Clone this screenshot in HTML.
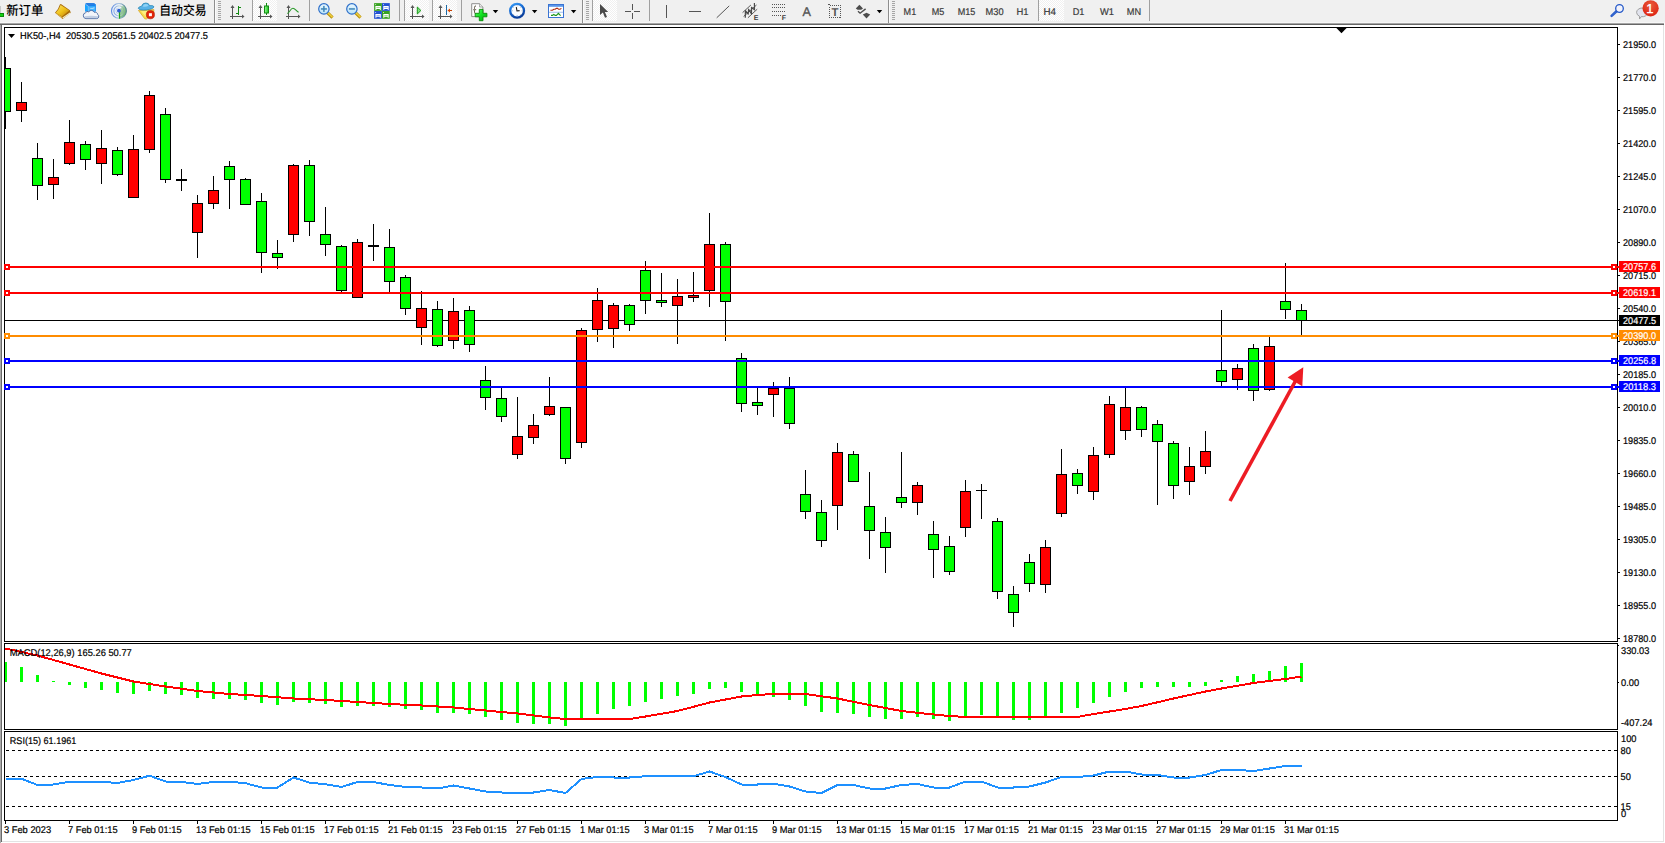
<!DOCTYPE html><html><head><meta charset="utf-8"><title>HK50-,H4</title>
<style>
html,body{margin:0;padding:0;background:#f0f0f0;overflow:hidden}
body{width:1665px;height:843px;position:relative;font-family:"Liberation Sans","Noto Sans CJK SC",sans-serif}
#chart{position:absolute;left:0;top:0;width:1665px;height:843px}
#chart text{font-family:"Liberation Sans","Noto Sans CJK SC",sans-serif;font-size:9.78px;text-rendering:geometricPrecision;stroke-width:0.2px}
.cr{shape-rendering:crispEdges}
#chart text.tb{font-size:9.78px;fill:#3a3a3a;stroke:#3a3a3a}
#chart text.cjk{font-family:"Noto Sans CJK SC","Liberation Sans",sans-serif;font-size:13px;fill:#000;font-weight:500;stroke-width:0}
</style></head><body>
<svg id="chart" width="1665" height="843" viewBox="0 0 1665 843">
<g class="cr">
<rect x="0" y="0" width="1665" height="843" fill="#f0f0f0"/>
<rect x="0" y="22" width="1665" height="1" fill="#f7f7f7"/>
<rect x="0" y="23" width="1665" height="820" fill="#fff"/>
<rect x="0" y="23" width="1664" height="1" fill="#a6a6a6"/>
<rect x="0" y="24" width="1664" height="1" fill="#666"/>
<rect x="0" y="25" width="1" height="818" fill="#a9a9a9"/>
<rect x="1" y="25" width="1" height="817" fill="#696969"/>
<rect x="1663" y="25" width="1" height="817" fill="#e3e3e3"/>
<rect x="2" y="841" width="1662" height="1" fill="#e3e3e3"/>
<rect x="4" y="27" width="1614" height="1" fill="#000"/>
<rect x="4" y="27" width="1" height="615" fill="#000"/><rect x="4" y="643" width="1" height="87" fill="#000"/><rect x="4" y="731" width="1" height="90" fill="#000"/>
<rect x="1617" y="27" width="1" height="615" fill="#000"/>
<rect x="1617" y="643" width="1" height="87" fill="#000"/>
<rect x="1617" y="731" width="1" height="90" fill="#000"/>
<rect x="4" y="641" width="1614" height="1" fill="#000"/>
<rect x="4" y="643" width="1614" height="1" fill="#000"/>
<rect x="4" y="729" width="1614" height="1" fill="#000"/>
<rect x="4" y="731" width="1614" height="1" fill="#000"/>
<rect x="4" y="820" width="1614" height="1" fill="#000"/>
</g>
<defs><clipPath id="cm"><rect x="5" y="28" width="1612" height="613"/></clipPath><clipPath id="cm4"><rect x="4" y="28" width="1615" height="613"/></clipPath><clipPath id="c2"><rect x="5" y="644" width="1612" height="85"/></clipPath></defs>
<g class="cr">
<rect x="1618" y="44" width="2" height="1" fill="#000"/>
<rect x="1618" y="77" width="2" height="1" fill="#000"/>
<rect x="1618" y="110" width="2" height="1" fill="#000"/>
<rect x="1618" y="143" width="2" height="1" fill="#000"/>
<rect x="1618" y="176" width="2" height="1" fill="#000"/>
<rect x="1618" y="209" width="2" height="1" fill="#000"/>
<rect x="1618" y="242" width="2" height="1" fill="#000"/>
<rect x="1618" y="275" width="2" height="1" fill="#000"/>
<rect x="1618" y="308" width="2" height="1" fill="#000"/>
<rect x="1618" y="341" width="2" height="1" fill="#000"/>
<rect x="1618" y="374" width="2" height="1" fill="#000"/>
<rect x="1618" y="407" width="2" height="1" fill="#000"/>
<rect x="1618" y="440" width="2" height="1" fill="#000"/>
<rect x="1618" y="473" width="2" height="1" fill="#000"/>
<rect x="1618" y="506" width="2" height="1" fill="#000"/>
<rect x="1618" y="539" width="2" height="1" fill="#000"/>
<rect x="1618" y="572" width="2" height="1" fill="#000"/>
<rect x="1618" y="605" width="2" height="1" fill="#000"/>
<rect x="1618" y="638" width="2" height="1" fill="#000"/>
</g>
<text x="1623" y="48" fill="#000" stroke="#000" text-anchor="start" textLength="33" lengthAdjust="spacingAndGlyphs">21950.0</text>
<text x="1623" y="81" fill="#000" stroke="#000" text-anchor="start" textLength="33" lengthAdjust="spacingAndGlyphs">21770.0</text>
<text x="1623" y="114" fill="#000" stroke="#000" text-anchor="start" textLength="33" lengthAdjust="spacingAndGlyphs">21595.0</text>
<text x="1623" y="147" fill="#000" stroke="#000" text-anchor="start" textLength="33" lengthAdjust="spacingAndGlyphs">21420.0</text>
<text x="1623" y="180" fill="#000" stroke="#000" text-anchor="start" textLength="33" lengthAdjust="spacingAndGlyphs">21245.0</text>
<text x="1623" y="213" fill="#000" stroke="#000" text-anchor="start" textLength="33" lengthAdjust="spacingAndGlyphs">21070.0</text>
<text x="1623" y="246" fill="#000" stroke="#000" text-anchor="start" textLength="33" lengthAdjust="spacingAndGlyphs">20890.0</text>
<text x="1623" y="279" fill="#000" stroke="#000" text-anchor="start" textLength="33" lengthAdjust="spacingAndGlyphs">20715.0</text>
<text x="1623" y="312" fill="#000" stroke="#000" text-anchor="start" textLength="33" lengthAdjust="spacingAndGlyphs">20540.0</text>
<text x="1623" y="345" fill="#000" stroke="#000" text-anchor="start" textLength="33" lengthAdjust="spacingAndGlyphs">20365.0</text>
<text x="1623" y="378" fill="#000" stroke="#000" text-anchor="start" textLength="33" lengthAdjust="spacingAndGlyphs">20185.0</text>
<text x="1623" y="411" fill="#000" stroke="#000" text-anchor="start" textLength="33" lengthAdjust="spacingAndGlyphs">20010.0</text>
<text x="1623" y="444" fill="#000" stroke="#000" text-anchor="start" textLength="33" lengthAdjust="spacingAndGlyphs">19835.0</text>
<text x="1623" y="477" fill="#000" stroke="#000" text-anchor="start" textLength="33" lengthAdjust="spacingAndGlyphs">19660.0</text>
<text x="1623" y="510" fill="#000" stroke="#000" text-anchor="start" textLength="33" lengthAdjust="spacingAndGlyphs">19485.0</text>
<text x="1623" y="543" fill="#000" stroke="#000" text-anchor="start" textLength="33" lengthAdjust="spacingAndGlyphs">19305.0</text>
<text x="1623" y="576" fill="#000" stroke="#000" text-anchor="start" textLength="33" lengthAdjust="spacingAndGlyphs">19130.0</text>
<text x="1623" y="609" fill="#000" stroke="#000" text-anchor="start" textLength="33" lengthAdjust="spacingAndGlyphs">18955.0</text>
<text x="1623" y="642" fill="#000" stroke="#000" text-anchor="start" textLength="33" lengthAdjust="spacingAndGlyphs">18780.0</text>
<g class="cr" clip-path="url(#cm)">
<rect x="5" y="320" width="1612" height="1" fill="#000"/>
<rect x="5" y="57" width="1" height="72" fill="#000"/>
<rect x="0" y="68" width="11" height="44" fill="#000"/>
<rect x="1" y="69" width="9" height="42" fill="#00ff00"/>
<rect x="21" y="82" width="1" height="40" fill="#000"/>
<rect x="16" y="102" width="11" height="9" fill="#000"/>
<rect x="17" y="103" width="9" height="7" fill="#ff0000"/>
<rect x="37" y="143" width="1" height="57" fill="#000"/>
<rect x="32" y="158" width="11" height="28" fill="#000"/>
<rect x="33" y="159" width="9" height="26" fill="#00ff00"/>
<rect x="53" y="159" width="1" height="40" fill="#000"/>
<rect x="48" y="177" width="11" height="8" fill="#000"/>
<rect x="49" y="178" width="9" height="6" fill="#ff0000"/>
<rect x="69" y="120" width="1" height="45" fill="#000"/>
<rect x="64" y="142" width="11" height="22" fill="#000"/>
<rect x="65" y="143" width="9" height="20" fill="#ff0000"/>
<rect x="85" y="141" width="1" height="29" fill="#000"/>
<rect x="80" y="144" width="11" height="16" fill="#000"/>
<rect x="81" y="145" width="9" height="14" fill="#00ff00"/>
<rect x="101" y="130" width="1" height="54" fill="#000"/>
<rect x="96" y="148" width="11" height="16" fill="#000"/>
<rect x="97" y="149" width="9" height="14" fill="#ff0000"/>
<rect x="117" y="147" width="1" height="29" fill="#000"/>
<rect x="112" y="150" width="11" height="25" fill="#000"/>
<rect x="113" y="151" width="9" height="23" fill="#00ff00"/>
<rect x="133" y="135" width="1" height="63" fill="#000"/>
<rect x="128" y="149" width="11" height="49" fill="#000"/>
<rect x="129" y="150" width="9" height="47" fill="#ff0000"/>
<rect x="149" y="91" width="1" height="62" fill="#000"/>
<rect x="144" y="95" width="11" height="55" fill="#000"/>
<rect x="145" y="96" width="9" height="53" fill="#ff0000"/>
<rect x="165" y="108" width="1" height="75" fill="#000"/>
<rect x="160" y="114" width="11" height="66" fill="#000"/>
<rect x="161" y="115" width="9" height="64" fill="#00ff00"/>
<rect x="181" y="169" width="1" height="22" fill="#000"/>
<rect x="176" y="179" width="11" height="2" fill="#000"/>
<rect x="197" y="195" width="1" height="63" fill="#000"/>
<rect x="192" y="203" width="11" height="30" fill="#000"/>
<rect x="193" y="204" width="9" height="28" fill="#ff0000"/>
<rect x="213" y="176" width="1" height="33" fill="#000"/>
<rect x="208" y="190" width="11" height="14" fill="#000"/>
<rect x="209" y="191" width="9" height="12" fill="#ff0000"/>
<rect x="229" y="161" width="1" height="48" fill="#000"/>
<rect x="224" y="166" width="11" height="14" fill="#000"/>
<rect x="225" y="167" width="9" height="12" fill="#00ff00"/>
<rect x="245" y="178" width="1" height="27" fill="#000"/>
<rect x="240" y="179" width="11" height="26" fill="#000"/>
<rect x="241" y="180" width="9" height="24" fill="#00ff00"/>
<rect x="261" y="193" width="1" height="80" fill="#000"/>
<rect x="256" y="201" width="11" height="52" fill="#000"/>
<rect x="257" y="202" width="9" height="50" fill="#00ff00"/>
<rect x="277" y="240" width="1" height="29" fill="#000"/>
<rect x="272" y="253" width="11" height="5" fill="#000"/>
<rect x="273" y="254" width="9" height="3" fill="#00ff00"/>
<rect x="293" y="164" width="1" height="78" fill="#000"/>
<rect x="288" y="165" width="11" height="70" fill="#000"/>
<rect x="289" y="166" width="9" height="68" fill="#ff0000"/>
<rect x="309" y="160" width="1" height="76" fill="#000"/>
<rect x="304" y="165" width="11" height="57" fill="#000"/>
<rect x="305" y="166" width="9" height="55" fill="#00ff00"/>
<rect x="325" y="207" width="1" height="49" fill="#000"/>
<rect x="320" y="234" width="11" height="11" fill="#000"/>
<rect x="321" y="235" width="9" height="9" fill="#00ff00"/>
<rect x="341" y="245" width="1" height="47" fill="#000"/>
<rect x="336" y="246" width="11" height="45" fill="#000"/>
<rect x="337" y="247" width="9" height="43" fill="#00ff00"/>
<rect x="357" y="239" width="1" height="59" fill="#000"/>
<rect x="352" y="242" width="11" height="56" fill="#000"/>
<rect x="353" y="243" width="9" height="54" fill="#ff0000"/>
<rect x="373" y="224" width="1" height="37" fill="#000"/>
<rect x="368" y="245" width="11" height="2" fill="#000"/>
<rect x="389" y="229" width="1" height="64" fill="#000"/>
<rect x="384" y="247" width="11" height="35" fill="#000"/>
<rect x="385" y="248" width="9" height="33" fill="#00ff00"/>
<rect x="405" y="275" width="1" height="40" fill="#000"/>
<rect x="400" y="277" width="11" height="32" fill="#000"/>
<rect x="401" y="278" width="9" height="30" fill="#00ff00"/>
<rect x="421" y="291" width="1" height="54" fill="#000"/>
<rect x="416" y="308" width="11" height="20" fill="#000"/>
<rect x="417" y="309" width="9" height="18" fill="#ff0000"/>
<rect x="437" y="301" width="1" height="46" fill="#000"/>
<rect x="432" y="309" width="11" height="37" fill="#000"/>
<rect x="433" y="310" width="9" height="35" fill="#00ff00"/>
<rect x="453" y="298" width="1" height="51" fill="#000"/>
<rect x="448" y="311" width="11" height="30" fill="#000"/>
<rect x="449" y="312" width="9" height="28" fill="#ff0000"/>
<rect x="469" y="306" width="1" height="46" fill="#000"/>
<rect x="464" y="310" width="11" height="35" fill="#000"/>
<rect x="465" y="311" width="9" height="33" fill="#00ff00"/>
<rect x="485" y="366" width="1" height="44" fill="#000"/>
<rect x="480" y="380" width="11" height="18" fill="#000"/>
<rect x="481" y="381" width="9" height="16" fill="#00ff00"/>
<rect x="501" y="388" width="1" height="34" fill="#000"/>
<rect x="496" y="398" width="11" height="19" fill="#000"/>
<rect x="497" y="399" width="9" height="17" fill="#00ff00"/>
<rect x="517" y="397" width="1" height="62" fill="#000"/>
<rect x="512" y="436" width="11" height="19" fill="#000"/>
<rect x="513" y="437" width="9" height="17" fill="#ff0000"/>
<rect x="533" y="414" width="1" height="30" fill="#000"/>
<rect x="528" y="425" width="11" height="13" fill="#000"/>
<rect x="529" y="426" width="9" height="11" fill="#ff0000"/>
<rect x="549" y="377" width="1" height="39" fill="#000"/>
<rect x="544" y="406" width="11" height="9" fill="#000"/>
<rect x="545" y="407" width="9" height="7" fill="#ff0000"/>
<rect x="565" y="407" width="1" height="57" fill="#000"/>
<rect x="560" y="407" width="11" height="52" fill="#000"/>
<rect x="561" y="408" width="9" height="50" fill="#00ff00"/>
<rect x="581" y="328" width="1" height="120" fill="#000"/>
<rect x="576" y="330" width="11" height="113" fill="#000"/>
<rect x="577" y="331" width="9" height="111" fill="#ff0000"/>
<rect x="597" y="288" width="1" height="54" fill="#000"/>
<rect x="592" y="300" width="11" height="30" fill="#000"/>
<rect x="593" y="301" width="9" height="28" fill="#ff0000"/>
<rect x="613" y="303" width="1" height="45" fill="#000"/>
<rect x="608" y="305" width="11" height="24" fill="#000"/>
<rect x="609" y="306" width="9" height="22" fill="#ff0000"/>
<rect x="629" y="304" width="1" height="27" fill="#000"/>
<rect x="624" y="305" width="11" height="20" fill="#000"/>
<rect x="625" y="306" width="9" height="18" fill="#00ff00"/>
<rect x="645" y="261" width="1" height="53" fill="#000"/>
<rect x="640" y="270" width="11" height="31" fill="#000"/>
<rect x="641" y="271" width="9" height="29" fill="#00ff00"/>
<rect x="661" y="273" width="1" height="34" fill="#000"/>
<rect x="656" y="300" width="11" height="3" fill="#000"/>
<rect x="657" y="301" width="9" height="1" fill="#00ff00"/>
<rect x="677" y="279" width="1" height="65" fill="#000"/>
<rect x="672" y="296" width="11" height="10" fill="#000"/>
<rect x="673" y="297" width="9" height="8" fill="#ff0000"/>
<rect x="693" y="272" width="1" height="30" fill="#000"/>
<rect x="688" y="295" width="11" height="3" fill="#000"/>
<rect x="689" y="296" width="9" height="1" fill="#ff0000"/>
<rect x="709" y="213" width="1" height="94" fill="#000"/>
<rect x="704" y="244" width="11" height="47" fill="#000"/>
<rect x="705" y="245" width="9" height="45" fill="#ff0000"/>
<rect x="725" y="242" width="1" height="99" fill="#000"/>
<rect x="720" y="244" width="11" height="58" fill="#000"/>
<rect x="721" y="245" width="9" height="56" fill="#00ff00"/>
<rect x="741" y="353" width="1" height="59" fill="#000"/>
<rect x="736" y="358" width="11" height="46" fill="#000"/>
<rect x="737" y="359" width="9" height="44" fill="#00ff00"/>
<rect x="757" y="388" width="1" height="27" fill="#000"/>
<rect x="752" y="402" width="11" height="4" fill="#000"/>
<rect x="753" y="403" width="9" height="2" fill="#00ff00"/>
<rect x="773" y="382" width="1" height="35" fill="#000"/>
<rect x="768" y="388" width="11" height="7" fill="#000"/>
<rect x="769" y="389" width="9" height="5" fill="#ff0000"/>
<rect x="789" y="377" width="1" height="52" fill="#000"/>
<rect x="784" y="388" width="11" height="36" fill="#000"/>
<rect x="785" y="389" width="9" height="34" fill="#00ff00"/>
<rect x="805" y="470" width="1" height="49" fill="#000"/>
<rect x="800" y="494" width="11" height="18" fill="#000"/>
<rect x="801" y="495" width="9" height="16" fill="#00ff00"/>
<rect x="821" y="500" width="1" height="47" fill="#000"/>
<rect x="816" y="512" width="11" height="29" fill="#000"/>
<rect x="817" y="513" width="9" height="27" fill="#00ff00"/>
<rect x="837" y="443" width="1" height="87" fill="#000"/>
<rect x="832" y="452" width="11" height="54" fill="#000"/>
<rect x="833" y="453" width="9" height="52" fill="#ff0000"/>
<rect x="853" y="451" width="1" height="31" fill="#000"/>
<rect x="848" y="454" width="11" height="28" fill="#000"/>
<rect x="849" y="455" width="9" height="26" fill="#00ff00"/>
<rect x="869" y="472" width="1" height="87" fill="#000"/>
<rect x="864" y="506" width="11" height="25" fill="#000"/>
<rect x="865" y="507" width="9" height="23" fill="#00ff00"/>
<rect x="885" y="517" width="1" height="56" fill="#000"/>
<rect x="880" y="532" width="11" height="16" fill="#000"/>
<rect x="881" y="533" width="9" height="14" fill="#00ff00"/>
<rect x="901" y="452" width="1" height="56" fill="#000"/>
<rect x="896" y="497" width="11" height="6" fill="#000"/>
<rect x="897" y="498" width="9" height="4" fill="#00ff00"/>
<rect x="917" y="482" width="1" height="33" fill="#000"/>
<rect x="912" y="485" width="11" height="18" fill="#000"/>
<rect x="913" y="486" width="9" height="16" fill="#ff0000"/>
<rect x="933" y="521" width="1" height="57" fill="#000"/>
<rect x="928" y="534" width="11" height="16" fill="#000"/>
<rect x="929" y="535" width="9" height="14" fill="#00ff00"/>
<rect x="949" y="536" width="1" height="39" fill="#000"/>
<rect x="944" y="546" width="11" height="26" fill="#000"/>
<rect x="945" y="547" width="9" height="24" fill="#00ff00"/>
<rect x="965" y="480" width="1" height="57" fill="#000"/>
<rect x="960" y="491" width="11" height="37" fill="#000"/>
<rect x="961" y="492" width="9" height="35" fill="#ff0000"/>
<rect x="981" y="484" width="1" height="35" fill="#000"/>
<rect x="976" y="490" width="11" height="1" fill="#000"/>
<rect x="997" y="518" width="1" height="81" fill="#000"/>
<rect x="992" y="521" width="11" height="71" fill="#000"/>
<rect x="993" y="522" width="9" height="69" fill="#00ff00"/>
<rect x="1013" y="586" width="1" height="41" fill="#000"/>
<rect x="1008" y="594" width="11" height="19" fill="#000"/>
<rect x="1009" y="595" width="9" height="17" fill="#00ff00"/>
<rect x="1029" y="554" width="1" height="38" fill="#000"/>
<rect x="1024" y="562" width="11" height="22" fill="#000"/>
<rect x="1025" y="563" width="9" height="20" fill="#00ff00"/>
<rect x="1045" y="540" width="1" height="53" fill="#000"/>
<rect x="1040" y="547" width="11" height="38" fill="#000"/>
<rect x="1041" y="548" width="9" height="36" fill="#ff0000"/>
<rect x="1061" y="449" width="1" height="68" fill="#000"/>
<rect x="1056" y="474" width="11" height="40" fill="#000"/>
<rect x="1057" y="475" width="9" height="38" fill="#ff0000"/>
<rect x="1077" y="469" width="1" height="25" fill="#000"/>
<rect x="1072" y="473" width="11" height="13" fill="#000"/>
<rect x="1073" y="474" width="9" height="11" fill="#00ff00"/>
<rect x="1093" y="447" width="1" height="53" fill="#000"/>
<rect x="1088" y="455" width="11" height="37" fill="#000"/>
<rect x="1089" y="456" width="9" height="35" fill="#ff0000"/>
<rect x="1109" y="396" width="1" height="62" fill="#000"/>
<rect x="1104" y="404" width="11" height="51" fill="#000"/>
<rect x="1105" y="405" width="9" height="49" fill="#ff0000"/>
<rect x="1125" y="388" width="1" height="52" fill="#000"/>
<rect x="1120" y="407" width="11" height="24" fill="#000"/>
<rect x="1121" y="408" width="9" height="22" fill="#ff0000"/>
<rect x="1141" y="406" width="1" height="31" fill="#000"/>
<rect x="1136" y="407" width="11" height="23" fill="#000"/>
<rect x="1137" y="408" width="9" height="21" fill="#00ff00"/>
<rect x="1157" y="420" width="1" height="85" fill="#000"/>
<rect x="1152" y="424" width="11" height="18" fill="#000"/>
<rect x="1153" y="425" width="9" height="16" fill="#00ff00"/>
<rect x="1173" y="441" width="1" height="58" fill="#000"/>
<rect x="1168" y="443" width="11" height="43" fill="#000"/>
<rect x="1169" y="444" width="9" height="41" fill="#00ff00"/>
<rect x="1189" y="447" width="1" height="48" fill="#000"/>
<rect x="1184" y="466" width="11" height="16" fill="#000"/>
<rect x="1185" y="467" width="9" height="14" fill="#ff0000"/>
<rect x="1205" y="431" width="1" height="43" fill="#000"/>
<rect x="1200" y="451" width="11" height="16" fill="#000"/>
<rect x="1201" y="452" width="9" height="14" fill="#ff0000"/>
<rect x="1221" y="310" width="1" height="76" fill="#000"/>
<rect x="1216" y="370" width="11" height="12" fill="#000"/>
<rect x="1217" y="371" width="9" height="10" fill="#00ff00"/>
<rect x="1237" y="364" width="1" height="26" fill="#000"/>
<rect x="1232" y="368" width="11" height="12" fill="#000"/>
<rect x="1233" y="369" width="9" height="10" fill="#ff0000"/>
<rect x="1253" y="344" width="1" height="57" fill="#000"/>
<rect x="1248" y="348" width="11" height="43" fill="#000"/>
<rect x="1249" y="349" width="9" height="41" fill="#00ff00"/>
<rect x="1269" y="337" width="1" height="54" fill="#000"/>
<rect x="1264" y="346" width="11" height="44" fill="#000"/>
<rect x="1265" y="347" width="9" height="42" fill="#ff0000"/>
<rect x="1285" y="263" width="1" height="56" fill="#000"/>
<rect x="1280" y="301" width="11" height="9" fill="#000"/>
<rect x="1281" y="302" width="9" height="7" fill="#00ff00"/>
<rect x="1301" y="304" width="1" height="31" fill="#000"/>
<rect x="1296" y="310" width="11" height="11" fill="#000"/>
<rect x="1297" y="311" width="9" height="9" fill="#00ff00"/>
</g><g class="cr" clip-path="url(#cm4)">
<rect x="4" y="266" width="1615" height="2" fill="#ff0000"/>
<rect x="4" y="264" width="6" height="6" fill="#ff0000"/>
<rect x="6" y="266" width="2" height="2" fill="#fff"/>
<rect x="1611" y="264" width="6" height="6" fill="#ff0000"/>
<rect x="1613" y="266" width="2" height="2" fill="#fff"/>
<rect x="4" y="292" width="1615" height="2" fill="#ff0000"/>
<rect x="4" y="290" width="6" height="6" fill="#ff0000"/>
<rect x="6" y="292" width="2" height="2" fill="#fff"/>
<rect x="1611" y="290" width="6" height="6" fill="#ff0000"/>
<rect x="1613" y="292" width="2" height="2" fill="#fff"/>
<rect x="4" y="335" width="1615" height="2" fill="#ff8c00"/>
<rect x="4" y="333" width="6" height="6" fill="#ff8c00"/>
<rect x="6" y="335" width="2" height="2" fill="#fff"/>
<rect x="1611" y="333" width="6" height="6" fill="#ff8c00"/>
<rect x="1613" y="335" width="2" height="2" fill="#fff"/>
<rect x="4" y="360" width="1615" height="2" fill="#0000ff"/>
<rect x="4" y="358" width="6" height="6" fill="#0000ff"/>
<rect x="6" y="360" width="2" height="2" fill="#fff"/>
<rect x="1611" y="358" width="6" height="6" fill="#0000ff"/>
<rect x="1613" y="360" width="2" height="2" fill="#fff"/>
<rect x="4" y="386" width="1615" height="2" fill="#0000ff"/>
<rect x="4" y="384" width="6" height="6" fill="#0000ff"/>
<rect x="6" y="386" width="2" height="2" fill="#fff"/>
<rect x="1611" y="384" width="6" height="6" fill="#0000ff"/>
<rect x="1613" y="386" width="2" height="2" fill="#fff"/>
</g>
<g class="cr">
<rect x="1618" y="320" width="1" height="1" fill="#000"/><rect x="1619" y="315" width="41" height="11" fill="#000"/>
<rect x="1619" y="261" width="41" height="11" fill="#ff0000"/>
<rect x="1619" y="287" width="41" height="11" fill="#ff0000"/>
<rect x="1619" y="330" width="41" height="11" fill="#ff8c00"/>
<rect x="1619" y="355" width="41" height="11" fill="#0000ff"/>
<rect x="1619" y="381" width="41" height="11" fill="#0000ff"/>
</g>
<text x="1623" y="324" fill="#fff" stroke="#fff" text-anchor="start" textLength="33" lengthAdjust="spacingAndGlyphs">20477.5</text>
<text x="1623" y="270" fill="#fff" stroke="#fff" text-anchor="start" textLength="33" lengthAdjust="spacingAndGlyphs">20757.6</text>
<text x="1623" y="296" fill="#fff" stroke="#fff" text-anchor="start" textLength="33" lengthAdjust="spacingAndGlyphs">20619.1</text>
<text x="1623" y="339" fill="#fff" stroke="#fff" text-anchor="start" textLength="33" lengthAdjust="spacingAndGlyphs">20390.0</text>
<text x="1623" y="364" fill="#fff" stroke="#fff" text-anchor="start" textLength="33" lengthAdjust="spacingAndGlyphs">20256.8</text>
<text x="1623" y="390" fill="#fff" stroke="#fff" text-anchor="start" textLength="33" lengthAdjust="spacingAndGlyphs">20118.3</text>
<line x1="1230" y1="501" x2="1296" y2="380" stroke="#ed1c24" stroke-width="3.6"/>
<polygon points="1303.3,367.3 1287.6,377.4 1302.3,386.3" fill="#ed1c24"/>
<polygon points="1336.4,28 1346.6,28 1341.5,33.2" fill="#000"/>
<polygon points="8,34 15,34 11.5,38" fill="#000"/>
<text x="20" y="39" fill="#000" stroke="#000" text-anchor="start" textLength="188" lengthAdjust="spacingAndGlyphs">HK50-,H4&#160; 20530.5 20561.5 20402.5 20477.5</text>
<g class="cr" clip-path="url(#c2)">
<rect x="4" y="662" width="3" height="20" fill="#00ff00"/>
<rect x="20" y="667" width="3" height="15" fill="#00ff00"/>
<rect x="36" y="675" width="3" height="7" fill="#00ff00"/>
<rect x="52" y="681" width="3" height="1" fill="#00ff00"/>
<rect x="68" y="682" width="3" height="3" fill="#00ff00"/>
<rect x="84" y="682" width="3" height="6" fill="#00ff00"/>
<rect x="100" y="682" width="3" height="8" fill="#00ff00"/>
<rect x="116" y="682" width="3" height="11" fill="#00ff00"/>
<rect x="132" y="682" width="3" height="12" fill="#00ff00"/>
<rect x="148" y="682" width="3" height="9" fill="#00ff00"/>
<rect x="164" y="682" width="3" height="12" fill="#00ff00"/>
<rect x="180" y="682" width="3" height="13" fill="#00ff00"/>
<rect x="196" y="682" width="3" height="16" fill="#00ff00"/>
<rect x="212" y="682" width="3" height="17" fill="#00ff00"/>
<rect x="228" y="682" width="3" height="17" fill="#00ff00"/>
<rect x="244" y="682" width="3" height="18" fill="#00ff00"/>
<rect x="260" y="682" width="3" height="21" fill="#00ff00"/>
<rect x="276" y="682" width="3" height="23" fill="#00ff00"/>
<rect x="292" y="682" width="3" height="20" fill="#00ff00"/>
<rect x="308" y="682" width="3" height="21" fill="#00ff00"/>
<rect x="324" y="682" width="3" height="22" fill="#00ff00"/>
<rect x="340" y="682" width="3" height="25" fill="#00ff00"/>
<rect x="356" y="682" width="3" height="24" fill="#00ff00"/>
<rect x="372" y="682" width="3" height="24" fill="#00ff00"/>
<rect x="388" y="682" width="3" height="25" fill="#00ff00"/>
<rect x="404" y="682" width="3" height="27" fill="#00ff00"/>
<rect x="420" y="682" width="3" height="28" fill="#00ff00"/>
<rect x="436" y="682" width="3" height="31" fill="#00ff00"/>
<rect x="452" y="682" width="3" height="31" fill="#00ff00"/>
<rect x="468" y="682" width="3" height="32" fill="#00ff00"/>
<rect x="484" y="682" width="3" height="35" fill="#00ff00"/>
<rect x="500" y="682" width="3" height="38" fill="#00ff00"/>
<rect x="516" y="682" width="3" height="41" fill="#00ff00"/>
<rect x="532" y="682" width="3" height="42" fill="#00ff00"/>
<rect x="548" y="682" width="3" height="42" fill="#00ff00"/>
<rect x="564" y="682" width="3" height="44" fill="#00ff00"/>
<rect x="580" y="682" width="3" height="36" fill="#00ff00"/>
<rect x="596" y="682" width="3" height="32" fill="#00ff00"/>
<rect x="612" y="682" width="3" height="27" fill="#00ff00"/>
<rect x="628" y="682" width="3" height="24" fill="#00ff00"/>
<rect x="644" y="682" width="3" height="20" fill="#00ff00"/>
<rect x="660" y="682" width="3" height="17" fill="#00ff00"/>
<rect x="676" y="682" width="3" height="14" fill="#00ff00"/>
<rect x="692" y="682" width="3" height="12" fill="#00ff00"/>
<rect x="708" y="682" width="3" height="7" fill="#00ff00"/>
<rect x="724" y="682" width="3" height="6" fill="#00ff00"/>
<rect x="740" y="682" width="3" height="10" fill="#00ff00"/>
<rect x="756" y="682" width="3" height="13" fill="#00ff00"/>
<rect x="772" y="682" width="3" height="15" fill="#00ff00"/>
<rect x="788" y="682" width="3" height="18" fill="#00ff00"/>
<rect x="804" y="682" width="3" height="24" fill="#00ff00"/>
<rect x="820" y="682" width="3" height="30" fill="#00ff00"/>
<rect x="836" y="682" width="3" height="31" fill="#00ff00"/>
<rect x="852" y="682" width="3" height="32" fill="#00ff00"/>
<rect x="868" y="682" width="3" height="35" fill="#00ff00"/>
<rect x="884" y="682" width="3" height="37" fill="#00ff00"/>
<rect x="900" y="682" width="3" height="37" fill="#00ff00"/>
<rect x="916" y="682" width="3" height="35" fill="#00ff00"/>
<rect x="932" y="682" width="3" height="37" fill="#00ff00"/>
<rect x="948" y="682" width="3" height="39" fill="#00ff00"/>
<rect x="964" y="682" width="3" height="36" fill="#00ff00"/>
<rect x="980" y="682" width="3" height="33" fill="#00ff00"/>
<rect x="996" y="682" width="3" height="34" fill="#00ff00"/>
<rect x="1012" y="682" width="3" height="38" fill="#00ff00"/>
<rect x="1028" y="682" width="3" height="38" fill="#00ff00"/>
<rect x="1044" y="682" width="3" height="34" fill="#00ff00"/>
<rect x="1060" y="682" width="3" height="31" fill="#00ff00"/>
<rect x="1076" y="682" width="3" height="26" fill="#00ff00"/>
<rect x="1092" y="682" width="3" height="21" fill="#00ff00"/>
<rect x="1108" y="682" width="3" height="15" fill="#00ff00"/>
<rect x="1124" y="682" width="3" height="10" fill="#00ff00"/>
<rect x="1140" y="682" width="3" height="6" fill="#00ff00"/>
<rect x="1156" y="682" width="3" height="5" fill="#00ff00"/>
<rect x="1172" y="682" width="3" height="5" fill="#00ff00"/>
<rect x="1188" y="682" width="3" height="5" fill="#00ff00"/>
<rect x="1204" y="682" width="3" height="4" fill="#00ff00"/>
<rect x="1220" y="680" width="3" height="2" fill="#00ff00"/>
<rect x="1236" y="676" width="3" height="6" fill="#00ff00"/>
<rect x="1252" y="674" width="3" height="8" fill="#00ff00"/>
<rect x="1268" y="671" width="3" height="11" fill="#00ff00"/>
<rect x="1284" y="666" width="3" height="16" fill="#00ff00"/>
<rect x="1300" y="663" width="3" height="19" fill="#00ff00"/>
</g>
<polyline class="cr" fill="none" stroke="#ff0000" stroke-width="2" stroke-linejoin="round" points="5.5,648.5 37.5,655.5 69.5,664.5 101.5,673.5 133.5,681.5 165.5,686.5 197.5,691 229.5,694 261.5,696 293.5,698.5 325.5,700 357.5,702 389.5,704 421.5,705.5 453.5,707.5 485.5,710.5 517.5,713.5 549.5,717.5 565.5,719 629.5,719 645.5,716.5 677.5,711 709.5,702.5 741.5,696.5 757.5,695 773.5,694 805.5,694 837.5,698.5 869.5,705 901.5,711 933.5,714.5 949.5,716 965.5,717 1077.5,717 1093.5,714 1125.5,709 1141.5,706 1173.5,698.5 1205.5,691.5 1221.5,688.5 1253.5,683 1285.5,679 1301.5,676.5"/>
<text x="9.8" y="656" fill="#000" stroke="#000" text-anchor="start" textLength="122" lengthAdjust="spacingAndGlyphs">MACD(12,26,9) 165.26 50.77</text>
<g class="cr"><rect x="1618" y="645" width="1" height="1" fill="#000"/><rect x="1618" y="682" width="1" height="1" fill="#000"/></g>
<text x="1621" y="654" fill="#000" stroke="#000" text-anchor="start"  textLength="28.4" lengthAdjust="spacingAndGlyphs">330.03</text>
<text x="1621" y="686" fill="#000" stroke="#000" text-anchor="start"  textLength="18.1" lengthAdjust="spacingAndGlyphs">0.00</text>
<text x="1621" y="726" fill="#000" stroke="#000" text-anchor="start"  textLength="31.5" lengthAdjust="spacingAndGlyphs">-407.24</text>
<g class="cr">
<line x1="6" y1="750.5" x2="1617" y2="750.5" stroke="#000" stroke-width="1" stroke-dasharray="3 3"/>
<line x1="6" y1="776.5" x2="1617" y2="776.5" stroke="#000" stroke-width="1" stroke-dasharray="3 3"/>
<line x1="6" y1="806.5" x2="1617" y2="806.5" stroke="#000" stroke-width="1" stroke-dasharray="3 3"/>
</g>
<polyline class="cr" fill="none" stroke="#1e90ff" stroke-width="2" stroke-linejoin="round" points="5.5,778.7 21.5,778.7 37.5,785 53.5,784.5 69.5,781.7 85.5,781.7 101.5,781.7 117.5,783 133.5,780 149.5,775.7 165.5,781.5 181.5,782 197.5,784 213.5,782 229.5,781.7 245.5,783.2 261.5,787.5 277.5,787.5 293.5,777.5 309.5,782.7 325.5,784.2 341.5,787 357.5,782 373.5,782 389.5,785 405.5,787 421.5,787.5 437.5,788.5 453.5,785.5 469.5,788.5 485.5,791.5 501.5,792.5 517.5,792.5 533.5,792.5 549.5,790 565.5,793 581.5,779 597.5,777 613.5,777.5 629.5,777.5 645.5,776.2 661.5,776.2 677.5,776.2 693.5,776.2 709.5,771.5 725.5,777 741.5,784.5 757.5,784.5 773.5,783.7 789.5,786.5 805.5,791.5 821.5,793 837.5,785 853.5,785 869.5,788.5 885.5,788.5 901.5,785 917.5,784 933.5,787.5 949.5,787.5 965.5,781.5 981.5,781.5 997.5,787.5 1013.5,787.5 1029.5,786.5 1045.5,782.5 1061.5,777 1077.5,777 1093.5,775.5 1109.5,771.5 1125.5,771.5 1141.5,774.5 1157.5,775 1173.5,777.5 1189.5,777.5 1205.5,775 1221.5,770 1237.5,770 1253.5,771 1269.5,768.5 1285.5,766 1301.5,766"/>
<text x="9.8" y="744" fill="#000" stroke="#000" text-anchor="start" textLength="66.5" lengthAdjust="spacingAndGlyphs">RSI(15) 61.1961</text>
<text x="1621" y="742" fill="#000" stroke="#000" text-anchor="start"  textLength="15.5" lengthAdjust="spacingAndGlyphs">100</text>
<text x="1620.5" y="754" fill="#000" stroke="#000" text-anchor="start"  textLength="10.3" lengthAdjust="spacingAndGlyphs">80</text>
<text x="1620.5" y="780" fill="#000" stroke="#000" text-anchor="start"  textLength="10.3" lengthAdjust="spacingAndGlyphs">50</text>
<text x="1620.5" y="810" fill="#000" stroke="#000" text-anchor="start"  textLength="10.3" lengthAdjust="spacingAndGlyphs">15</text>
<text x="1621" y="817" fill="#000" stroke="#000" text-anchor="start"  textLength="5.2" lengthAdjust="spacingAndGlyphs">0</text>
<g class="cr">
<rect x="5" y="821" width="1" height="3" fill="#000"/>
<rect x="69" y="821" width="1" height="3" fill="#000"/>
<rect x="133" y="821" width="1" height="3" fill="#000"/>
<rect x="197" y="821" width="1" height="3" fill="#000"/>
<rect x="261" y="821" width="1" height="3" fill="#000"/>
<rect x="325" y="821" width="1" height="3" fill="#000"/>
<rect x="389" y="821" width="1" height="3" fill="#000"/>
<rect x="453" y="821" width="1" height="3" fill="#000"/>
<rect x="517" y="821" width="1" height="3" fill="#000"/>
<rect x="581" y="821" width="1" height="3" fill="#000"/>
<rect x="645" y="821" width="1" height="3" fill="#000"/>
<rect x="709" y="821" width="1" height="3" fill="#000"/>
<rect x="773" y="821" width="1" height="3" fill="#000"/>
<rect x="837" y="821" width="1" height="3" fill="#000"/>
<rect x="901" y="821" width="1" height="3" fill="#000"/>
<rect x="965" y="821" width="1" height="3" fill="#000"/>
<rect x="1029" y="821" width="1" height="3" fill="#000"/>
<rect x="1093" y="821" width="1" height="3" fill="#000"/>
<rect x="1157" y="821" width="1" height="3" fill="#000"/>
<rect x="1221" y="821" width="1" height="3" fill="#000"/>
<rect x="1285" y="821" width="1" height="3" fill="#000"/>
</g>
<text x="4" y="833" fill="#000" stroke="#000" text-anchor="start"  textLength="47.1" lengthAdjust="spacingAndGlyphs">3 Feb 2023</text>
<text x="68" y="833" fill="#000" stroke="#000" text-anchor="start"  textLength="49.6" lengthAdjust="spacingAndGlyphs">7 Feb 01:15</text>
<text x="132" y="833" fill="#000" stroke="#000" text-anchor="start"  textLength="49.6" lengthAdjust="spacingAndGlyphs">9 Feb 01:15</text>
<text x="196" y="833" fill="#000" stroke="#000" text-anchor="start"  textLength="54.8" lengthAdjust="spacingAndGlyphs">13 Feb 01:15</text>
<text x="260" y="833" fill="#000" stroke="#000" text-anchor="start"  textLength="54.8" lengthAdjust="spacingAndGlyphs">15 Feb 01:15</text>
<text x="324" y="833" fill="#000" stroke="#000" text-anchor="start"  textLength="54.8" lengthAdjust="spacingAndGlyphs">17 Feb 01:15</text>
<text x="388" y="833" fill="#000" stroke="#000" text-anchor="start"  textLength="54.8" lengthAdjust="spacingAndGlyphs">21 Feb 01:15</text>
<text x="452" y="833" fill="#000" stroke="#000" text-anchor="start"  textLength="54.8" lengthAdjust="spacingAndGlyphs">23 Feb 01:15</text>
<text x="516" y="833" fill="#000" stroke="#000" text-anchor="start"  textLength="54.8" lengthAdjust="spacingAndGlyphs">27 Feb 01:15</text>
<text x="580" y="833" fill="#000" stroke="#000" text-anchor="start"  textLength="49.6" lengthAdjust="spacingAndGlyphs">1 Mar 01:15</text>
<text x="644" y="833" fill="#000" stroke="#000" text-anchor="start"  textLength="49.6" lengthAdjust="spacingAndGlyphs">3 Mar 01:15</text>
<text x="708" y="833" fill="#000" stroke="#000" text-anchor="start"  textLength="49.6" lengthAdjust="spacingAndGlyphs">7 Mar 01:15</text>
<text x="772" y="833" fill="#000" stroke="#000" text-anchor="start"  textLength="49.6" lengthAdjust="spacingAndGlyphs">9 Mar 01:15</text>
<text x="836" y="833" fill="#000" stroke="#000" text-anchor="start"  textLength="54.8" lengthAdjust="spacingAndGlyphs">13 Mar 01:15</text>
<text x="900" y="833" fill="#000" stroke="#000" text-anchor="start"  textLength="54.8" lengthAdjust="spacingAndGlyphs">15 Mar 01:15</text>
<text x="964" y="833" fill="#000" stroke="#000" text-anchor="start"  textLength="54.8" lengthAdjust="spacingAndGlyphs">17 Mar 01:15</text>
<text x="1028" y="833" fill="#000" stroke="#000" text-anchor="start"  textLength="54.8" lengthAdjust="spacingAndGlyphs">21 Mar 01:15</text>
<text x="1092" y="833" fill="#000" stroke="#000" text-anchor="start"  textLength="54.8" lengthAdjust="spacingAndGlyphs">23 Mar 01:15</text>
<text x="1156" y="833" fill="#000" stroke="#000" text-anchor="start"  textLength="54.8" lengthAdjust="spacingAndGlyphs">27 Mar 01:15</text>
<text x="1220" y="833" fill="#000" stroke="#000" text-anchor="start"  textLength="54.8" lengthAdjust="spacingAndGlyphs">29 Mar 01:15</text>
<text x="1284" y="833" fill="#000" stroke="#000" text-anchor="start"  textLength="54.8" lengthAdjust="spacingAndGlyphs">31 Mar 01:15</text>
<defs><pattern id="chk" width="2" height="2" patternUnits="userSpaceOnUse"><rect width="2" height="2" fill="#fff"/><rect width="1" height="1" fill="#f0f0f0"/><rect x="1" y="1" width="1" height="1" fill="#f0f0f0"/></pattern><linearGradient id="gold" x1="0" y1="0" x2="1" y2="1"><stop offset="0" stop-color="#fbe36a"/><stop offset="0.5" stop-color="#efc21a"/><stop offset="1" stop-color="#b9780c"/></linearGradient><linearGradient id="blu" x1="0" y1="0" x2="1" y2="1"><stop offset="0" stop-color="#6ec3ff"/><stop offset="1" stop-color="#0a63d8"/></linearGradient><linearGradient id="grn" x1="0" y1="0" x2="1" y2="0"><stop offset="0" stop-color="#9aff9a"/><stop offset="1" stop-color="#18c018"/></linearGradient><radialGradient id="redb" cx="0.5" cy="0.3" r="0.8"><stop offset="0" stop-color="#e85a3a"/><stop offset="1" stop-color="#dc1c0c"/></radialGradient><linearGradient id="lens" x1="0" y1="0" x2="0" y2="1"><stop offset="0" stop-color="#eaf8ff"/><stop offset="1" stop-color="#b9e2f8"/></linearGradient></defs>
<rect class="cr" x="0" y="13" width="4" height="4" fill="#0a8a0a"/><rect class="cr" x="0" y="14" width="3" height="2" fill="#14d014"/>
<rect class="cr" x="0" y="6" width="1" height="7" fill="#c8c8c8"/>
<text x="6.2" y="14.7" class="cjk" textLength="37.2" lengthAdjust="spacingAndGlyphs">新订单</text>
<path d="M55,12.7 Q58.6,9.2 59.9,4.6 L60.9,4 L69.9,10.2 L70.8,12.8 L62.6,19 Z" fill="#a86a08"/>
<path d="M70.2,12.2 L70.4,13.4 L63,18.6 L62.4,17.6 Z" fill="#f3ecc0"/>
<path d="M55.9,12.7 Q59.2,9.4 60.6,4.9 L69.3,10.6 L62,16.6 Z" fill="url(#gold)"/>
<path d="M55.9,12.9 L62,16.9 L62.6,18.2 L56.6,14 Z" fill="#f6d860"/>
<path d="M85,4 L87,3.1 L94,3.2 L95.9,4.4 L95.9,11.5 L85.2,11.5 Z" fill="#0f86f0"/>
<path d="M85,4 L88.2,6 L88.4,11.6 L85.2,11.6 Z" fill="#19a4ff"/>
<path d="M85,4 L87,3.1 L94,3.2 L95.9,4.4 L88.2,6 Z" fill="#2a7de0"/>
<path d="M85.2,4.1 L88.3,6.1 L88.4,11" fill="none" stroke="#d8f0ff" stroke-width="0.5"/>
<rect x="89" y="6.3" width="6.2" height="5" fill="#45b6ff"/><path d="M90.2,8.4 L94.4,7.4 L94.4,8.2 L90.2,9.1Z" fill="#eaf6ff"/>
<path d="M86,18.6 a3,3 0 0 1 -0.4,-5.9 a2.3,2.3 0 0 1 3.2,-0.9 a3.2,3.2 0 0 1 5.6,0.6 a2.6,2.6 0 0 1 3.4,2.2 a2.2,2.2 0 0 1 -1,4 z" fill="#f2f5fa" stroke="#44649e" stroke-width="0.9"/>
<path d="M84.6,16.2 q6.6,-1 13.4,0 q0.4,1.6 -1.4,2 h-10.4 q-1.8,-0.4 -1.6,-2z" fill="#b9c7de" opacity="0.85"/>
<defs><linearGradient id="sg1" x1="0" y1="0" x2="1" y2="0"><stop offset="0" stop-color="#5f8ae2"/><stop offset="0.5" stop-color="#a9c4e0"/><stop offset="1" stop-color="#4f8090"/></linearGradient><linearGradient id="sg2" x1="0" y1="0" x2="1" y2="0"><stop offset="0" stop-color="#7fa2e8"/><stop offset="0.55" stop-color="#c4d8e0"/><stop offset="1" stop-color="#86b494"/></linearGradient><radialGradient id="sg3" cx="0.5" cy="0.5" r="0.5"><stop offset="0" stop-color="#ffffff"/><stop offset="1" stop-color="#e6eef4"/></radialGradient><linearGradient id="sg4" x1="0" y1="0" x2="1" y2="1"><stop offset="0" stop-color="#d2e8d2"/><stop offset="1" stop-color="#2f9c2f"/></linearGradient></defs>
<circle cx="118.9" cy="10.9" r="7.6" fill="url(#sg3)"/>
<path d="M118.9,10.9 L123.30000000000001,4.7 A7.6,7.6 0 0 1 119.30000000000001,18.5 Z" fill="url(#sg4)" opacity="0.85"/>
<circle cx="118.9" cy="10.9" r="7.4" fill="none" stroke="url(#sg1)" stroke-width="1.1"/>
<circle cx="118.9" cy="10.9" r="5" fill="none" stroke="url(#sg2)" stroke-width="1.1"/>
<circle cx="118.9" cy="10.9" r="3" fill="none" stroke="url(#sg2)" stroke-width="0.8" opacity="0.7"/>
<path d="M118.30000000000001,11.9 L118.5,18.5 L119.2,18.5 Z" fill="#f7ecf7"/>
<line x1="119.5" y1="10.9" x2="119.5" y2="18.7" stroke="#1fa01f" stroke-width="1.3"/>
<circle cx="118.9" cy="10.700000000000001" r="1.9" fill="#2f5fd4"/>
<path d="M138.4,10.4 L153.9,9.6 L153.6,13.4 L146.4,19 L144.8,18.8 Z" fill="#f8dc4c" stroke="#d6a21a" stroke-width="0.7"/>
<path d="M141,11.2 L150,10.8 L146,17 Z" fill="#fff48c" opacity="0.8"/>
<path d="M138.2,8.2 q0.4,-1.6 3.4,-2 q0.8,-3.2 4.2,-3.2 q3.2,0 3.6,2.6 q4.2,-0.4 4.6,1.2 q-0.6,2.2 -7.6,3.2 q-7,0.6 -8.2,-1.8z" fill="#58b2e6" stroke="#1f7fae" stroke-width="0.7"/>
<path d="M142.6,6.4 q0.8,-2.4 3.2,-2.4 q2.2,0 2.8,1.8 q-3,1.6 -6,0.6z" fill="#8fd2f6"/>
<circle cx="150.4" cy="14.7" r="4.1" fill="#e22408" stroke="#b01a06" stroke-width="0.6"/><rect x="148.9" y="13.2" width="3" height="3" fill="#fff"/>
<text x="159.2" y="14.7" class="cjk" textLength="47.4" lengthAdjust="spacingAndGlyphs">自动交易</text>
<rect class="cr" x="214" y="0" width="1" height="23" fill="#8e8e8e"/><rect class="cr" x="215" y="0" width="1" height="23" fill="#fbfbfb"/>
<rect class="cr" x="218" y="1" width="3" height="1" fill="#a6a6a6"/>
<rect class="cr" x="218" y="3" width="3" height="1" fill="#a6a6a6"/>
<rect class="cr" x="218" y="5" width="3" height="1" fill="#a6a6a6"/>
<rect class="cr" x="218" y="7" width="3" height="1" fill="#a6a6a6"/>
<rect class="cr" x="218" y="9" width="3" height="1" fill="#a6a6a6"/>
<rect class="cr" x="218" y="11" width="3" height="1" fill="#a6a6a6"/>
<rect class="cr" x="218" y="13" width="3" height="1" fill="#a6a6a6"/>
<rect class="cr" x="218" y="15" width="3" height="1" fill="#a6a6a6"/>
<rect class="cr" x="218" y="17" width="3" height="1" fill="#a6a6a6"/>
<rect class="cr" x="218" y="19" width="3" height="1" fill="#a6a6a6"/>
<g class="cr" fill="#555"><rect x="232" y="6" width="1" height="13"/><rect x="230" y="16" width="13" height="1"/></g>
<polygon points="230.5,8 232.5,5 234.5,8" fill="#555"/>
<polygon points="242,14.5 244.5,16.5 242,18.5" fill="#555"/>
<g class="cr" fill="#128a12"><rect x="238" y="6" width="1" height="9"/><rect x="239" y="7" width="2" height="1"/><rect x="236" y="13" width="2" height="1"/></g>
<rect class="cr" x="252" y="0" width="1" height="21" fill="#a0a0a0"/>
<rect class="cr" x="253" y="0" width="24" height="21" fill="url(#chk)"/>
<g class="cr" fill="#555"><rect x="260" y="6" width="1" height="13"/><rect x="258" y="16" width="13" height="1"/></g>
<polygon points="258.5,8 260.5,5 262.5,8" fill="#555"/>
<polygon points="270,14.5 272.5,16.5 270,18.5" fill="#555"/>
<rect class="cr" x="266" y="3" width="1" height="12" fill="#128a12"/>
<rect x="264.5" y="6" width="4" height="7" fill="url(#grn)" stroke="#128a12" stroke-width="1"/>
<g class="cr" fill="#555"><rect x="288" y="6" width="1" height="13"/><rect x="286" y="16" width="13" height="1"/></g>
<polygon points="286.5,8 288.5,5 290.5,8" fill="#555"/>
<polygon points="298,14.5 300.5,16.5 298,18.5" fill="#555"/>
<path d="M287.3,13.6 C289.5,12.6 290.6,8.3 292.9,8.3 C295,8.3 296.4,11.4 298.6,12.2" fill="none" stroke="#2a9a2a" stroke-width="1.1"/>
<rect class="cr" x="309" y="0" width="1" height="21" fill="#a0a0a0"/>
<line x1="327.7" y1="12.9" x2="332.5" y2="17.6" stroke="#b8900a" stroke-width="3.2" stroke-linecap="butt"/>
<line x1="327.9" y1="12.7" x2="332.5" y2="17.2" stroke="#f0d040" stroke-width="1.5"/>
<circle cx="323.9" cy="8.9" r="5.2" fill="url(#lens)" stroke="#2d6fca" stroke-width="1.2"/>
<rect x="320.9" y="8.2" width="6" height="1.5" fill="#3f86b8"/>
<rect x="323.15" y="5.9" width="1.5" height="6" fill="#3f86b8"/>
<line x1="355.7" y1="12.9" x2="360.5" y2="17.6" stroke="#b8900a" stroke-width="3.2" stroke-linecap="butt"/>
<line x1="355.9" y1="12.7" x2="360.5" y2="17.2" stroke="#f0d040" stroke-width="1.5"/>
<circle cx="351.9" cy="8.9" r="5.2" fill="url(#lens)" stroke="#2d6fca" stroke-width="1.2"/>
<rect x="348.9" y="8.2" width="6" height="1.5" fill="#3f86b8"/>
<rect x="374.1" y="3.1" width="7.8" height="7.8" fill="#3aa322"/>
<path d="M375.40000000000003,6.1 h5.4 v3.8 h-1 v-1 h-3.4 v1 h-1z" fill="#fff"/>
<rect x="376.40000000000003" y="7.1" width="3.4" height="0.9" fill="#9ad88a"/>
<rect x="375.1" y="4.1" width="1" height="1" fill="#fff" opacity="0.7"/>
<rect x="382" y="3.1" width="7.8" height="7.8" fill="#2352d2"/>
<path d="M383.3,6.1 h5.4 v3.8 h-1 v-1 h-3.4 v1 h-1z" fill="#fff"/>
<rect x="384.3" y="7.1" width="3.4" height="0.9" fill="#9ab4f0"/>
<rect x="383" y="4.1" width="1" height="1" fill="#fff" opacity="0.7"/>
<rect x="374.1" y="11" width="7.8" height="7.8" fill="#2352d2"/>
<path d="M375.40000000000003,14 h5.4 v3.8 h-1 v-1 h-3.4 v1 h-1z" fill="#fff"/>
<rect x="376.40000000000003" y="15" width="3.4" height="0.9" fill="#9ab4f0"/>
<rect x="375.1" y="12" width="1" height="1" fill="#fff" opacity="0.7"/>
<rect x="382" y="11" width="7.8" height="7.8" fill="#3aa322"/>
<path d="M383.3,14 h5.4 v3.8 h-1 v-1 h-3.4 v1 h-1z" fill="#fff"/>
<rect x="384.3" y="15" width="3.4" height="0.9" fill="#9ad88a"/>
<rect x="383" y="12" width="1" height="1" fill="#fff" opacity="0.7"/>
<rect class="cr" x="399" y="0" width="1" height="21" fill="#a0a0a0"/>
<rect class="cr" x="404" y="0" width="1" height="21" fill="#a0a0a0"/>
<rect class="cr" x="405" y="0" width="24" height="21" fill="url(#chk)"/>
<g class="cr" fill="#555"><rect x="412" y="6" width="1" height="13"/><rect x="410" y="16" width="13" height="1"/></g>
<polygon points="410.5,8 412.5,5 414.5,8" fill="#555"/>
<polygon points="422,14.5 424.5,16.5 422,18.5" fill="#555"/>
<polygon points="417.3,7 417.3,14 420.9,10.5" fill="#7fe07f" stroke="#1a9a1a" stroke-width="1"/>
<rect class="cr" x="432" y="0" width="1" height="21" fill="#a0a0a0"/>
<rect class="cr" x="433" y="0" width="24" height="21" fill="url(#chk)"/>
<g class="cr" fill="#555"><rect x="440" y="6" width="1" height="13"/><rect x="438" y="16" width="13" height="1"/></g>
<polygon points="438.5,8 440.5,5 442.5,8" fill="#555"/>
<polygon points="450,14.5 452.5,16.5 450,18.5" fill="#555"/>
<rect class="cr" x="446" y="5" width="1" height="10" fill="#1a6aa8"/>
<line x1="448" y1="10.5" x2="452" y2="10.5" stroke="#c84000" stroke-width="1"/><polygon points="447.4,10.5 450,8.6 450,12.4" fill="#d84800"/>
<rect class="cr" x="461" y="0" width="1" height="21" fill="#a0a0a0"/>
<defs><linearGradient id="plg" x1="0" y1="0" x2="1" y2="1"><stop offset="0" stop-color="#5aff6a"/><stop offset="0.5" stop-color="#10e020"/><stop offset="1" stop-color="#00a80c"/></linearGradient><linearGradient id="clk" x1="0" y1="0" x2="0.4" y2="1"><stop offset="0" stop-color="#3a9cf6"/><stop offset="0.5" stop-color="#1668d0"/><stop offset="1" stop-color="#0a3f9c"/></linearGradient></defs>
<path d="M471.7,3.7 h7.9 l3.3,3.3 v9.6 h-11.2z" fill="#fdfdfd" stroke="#858585" stroke-width="0.9"/>
<path d="M479.6,3.7 v3.3 h3.3" fill="#f0f0f0" stroke="#858585" stroke-width="0.7"/>
<path d="M476,5.9 q-1.5,0 -1.5,1.5 v1.2 q0,1.1 -0.9,1.1 q0.9,0 0.9,1.1 v1.4 q0,1.5 1.5,1.5 M474.6,9.7 h1.6" fill="none" stroke="#3c3420" stroke-width="0.8"/>
<path d="M479.3,9.4 h3.7 v3.9 h3.9 v3.5 h-3.9 v3.9 h-3.7 v-3.9 h-4.1 v-3.5 h4.1z" fill="url(#plg)" stroke="#0a8a0a" stroke-width="0.9"/>
<polygon points="492.8,10 498.2,10 495.5,13.2" fill="#000"/>
<circle cx="517.1" cy="10.8" r="6.9" fill="#fbfdff" stroke="url(#clk)" stroke-width="2.3"/>
<path d="M516.3,7.2 L517,11 L519.6,10.6" fill="none" stroke="#1a1a1a" stroke-width="1.1"/>
<g fill="#9aa4b0"><rect x="516.7" y="5.4" width="0.8" height="0.9"/><rect x="516.7" y="15.2" width="0.8" height="0.9" fill="#5a9af0"/><rect x="511.8" y="10.4" width="0.9" height="0.8"/><rect x="521.6" y="10.4" width="0.9" height="0.8"/><rect x="513.2" y="7" width="0.7" height="0.7"/><rect x="520.4" y="7" width="0.7" height="0.7"/><rect x="513.2" y="14" width="0.7" height="0.7"/><rect x="520.4" y="14" width="0.7" height="0.7"/></g>
<polygon points="531.9,10 537.3,10 534.6,13.2" fill="#000"/>
<rect x="548.5" y="4.5" width="15" height="13" fill="#fff" stroke="#3a74d2" stroke-width="1"/>
<rect x="549" y="5" width="14" height="1.8" fill="#5a96ea"/>
<rect x="549" y="11.8" width="14" height="0.8" fill="#8ab0e8"/>
<path d="M550.4,10.3 h2 l1.4,-1 h1.4 l1.2,-0.9 h1.2 l1,0.9 h1.4 l1.4,-0.9" fill="none" stroke="#b02a10" stroke-width="1.1"/>
<path d="M551,15.4 h1.4 l1.4,-0.9 l1.4,0.9 h1.2 l2,-2 l2.2,2.2" fill="none" stroke="#1a961a" stroke-width="1.1"/>
<polygon points="570.9,10 576.3,10 573.6,13.2" fill="#000"/>
<rect class="cr" x="582" y="0" width="1" height="23" fill="#8e8e8e"/><rect class="cr" x="583" y="0" width="1" height="23" fill="#fbfbfb"/>
<rect class="cr" x="586" y="1" width="3" height="1" fill="#a6a6a6"/>
<rect class="cr" x="586" y="3" width="3" height="1" fill="#a6a6a6"/>
<rect class="cr" x="586" y="5" width="3" height="1" fill="#a6a6a6"/>
<rect class="cr" x="586" y="7" width="3" height="1" fill="#a6a6a6"/>
<rect class="cr" x="586" y="9" width="3" height="1" fill="#a6a6a6"/>
<rect class="cr" x="586" y="11" width="3" height="1" fill="#a6a6a6"/>
<rect class="cr" x="586" y="13" width="3" height="1" fill="#a6a6a6"/>
<rect class="cr" x="586" y="15" width="3" height="1" fill="#a6a6a6"/>
<rect class="cr" x="586" y="17" width="3" height="1" fill="#a6a6a6"/>
<rect class="cr" x="586" y="19" width="3" height="1" fill="#a6a6a6"/>
<rect class="cr" x="592" y="0" width="1" height="21" fill="#a0a0a0"/>
<rect class="cr" x="593" y="0" width="24" height="21" fill="url(#chk)"/>
<polygon points="600,4 600,15 602.9,12.4 605,17.8 607,16.9 604.9,11.9 608.2,11.9" fill="#4a4a4a"/>
<g class="cr" fill="#555"><rect x="625" y="11" width="6" height="1"/><rect x="634" y="11" width="6" height="1"/><rect x="632" y="4" width="1" height="6"/><rect x="632" y="13" width="1" height="6"/></g>
<rect class="cr" x="649" y="0" width="1" height="21" fill="#a0a0a0"/>
<g class="cr" fill="#555"><rect x="666" y="5" width="1" height="13"/><rect x="689" y="11" width="12" height="1"/></g>
<line x1="716.7" y1="17.8" x2="729.2" y2="5.9" stroke="#555" stroke-width="1"/>
<g stroke="#4a4a4a" fill="none"><g stroke-width="0.9"><line x1="742.6" y1="12.6" x2="750.9" y2="5"/><line x1="743.6" y1="16.5" x2="756.5" y2="5"/><line x1="747.9" y1="17.8" x2="757.2" y2="9.2"/></g><polyline stroke-width="1.2" stroke-linejoin="round" points="745.3,17.8 745.4,10.6 748.2,14.2 748.6,9.2 751.5,13.9 751.5,7.3 754.5,9.9 754.4,3.1"/></g>
<text x="753.8" y="20" style="font-size:7px;font-weight:bold;stroke-width:0" fill="#3c3c3c">E</text>
<line class="cr" x1="772" y1="4.5" x2="785" y2="4.5" stroke="#555" stroke-width="1" stroke-dasharray="1 1"/>
<line class="cr" x1="772" y1="7.5" x2="785" y2="7.5" stroke="#555" stroke-width="1" stroke-dasharray="1 1"/>
<line class="cr" x1="772" y1="11.5" x2="785" y2="11.5" stroke="#555" stroke-width="1" stroke-dasharray="1 1"/>
<line class="cr" x1="772" y1="15.5" x2="781" y2="15.5" stroke="#555" stroke-width="1" stroke-dasharray="1 1"/>
<text x="781.7" y="20" style="font-size:7px;font-weight:bold;stroke-width:0" fill="#3c3c3c">F</text>
<text x="802.4" y="15.9" style="font-size:12.6px;stroke:#555;stroke-width:0.35px" fill="#555">A</text>
<rect class="cr" x="829.5" y="5.5" width="11" height="12" fill="none" stroke="#555" stroke-width="1" stroke-dasharray="1 1"/>
<rect class="cr" x="828" y="4" width="2" height="1" fill="#555"/>
<text x="835.1" y="15.9" text-anchor="middle" style="font-size:11.4px;font-weight:bold" fill="#555">T</text>
<polygon points="855.8,8.5 859.4,4.8 863,8.5 861.2,9.8 857.6,9.8" fill="#4c4c4c"/><polygon points="862.8,14.4 866.5,12.7 870.2,14.4 866.5,18.5" fill="#4c4c4c"/>
<path d="M858,11.3 l2.1,1.9 l5.5,-4.3" fill="none" stroke="#4c4c4c" stroke-width="1.4"/>
<polygon points="876.8,10 882.1999999999999,10 879.5,13.2" fill="#000"/>
<rect class="cr" x="888" y="0" width="1" height="23" fill="#8e8e8e"/><rect class="cr" x="889" y="0" width="1" height="23" fill="#fbfbfb"/>
<rect class="cr" x="892" y="1" width="3" height="1" fill="#a6a6a6"/>
<rect class="cr" x="892" y="3" width="3" height="1" fill="#a6a6a6"/>
<rect class="cr" x="892" y="5" width="3" height="1" fill="#a6a6a6"/>
<rect class="cr" x="892" y="7" width="3" height="1" fill="#a6a6a6"/>
<rect class="cr" x="892" y="9" width="3" height="1" fill="#a6a6a6"/>
<rect class="cr" x="892" y="11" width="3" height="1" fill="#a6a6a6"/>
<rect class="cr" x="892" y="13" width="3" height="1" fill="#a6a6a6"/>
<rect class="cr" x="892" y="15" width="3" height="1" fill="#a6a6a6"/>
<rect class="cr" x="892" y="17" width="3" height="1" fill="#a6a6a6"/>
<rect class="cr" x="892" y="19" width="3" height="1" fill="#a6a6a6"/>
<rect class="cr" x="1038" y="0" width="1" height="21" fill="#a0a0a0"/>
<rect class="cr" x="1039" y="0" width="25" height="21" fill="url(#chk)"/>
<text x="909.9" y="15" text-anchor="middle" class="tb" textLength="12.6" lengthAdjust="spacingAndGlyphs">M1</text>
<text x="938" y="15" text-anchor="middle" class="tb" textLength="12.6" lengthAdjust="spacingAndGlyphs">M5</text>
<text x="966.5" y="15" text-anchor="middle" class="tb" textLength="17.6" lengthAdjust="spacingAndGlyphs">M15</text>
<text x="994.6" y="15" text-anchor="middle" class="tb" textLength="18" lengthAdjust="spacingAndGlyphs">M30</text>
<text x="1022.5" y="15" text-anchor="middle" class="tb" textLength="12.1" lengthAdjust="spacingAndGlyphs">H1</text>
<text x="1049.7" y="15" text-anchor="middle" class="tb" textLength="12.5" lengthAdjust="spacingAndGlyphs">H4</text>
<text x="1078.5" y="15" text-anchor="middle" class="tb" textLength="11.7" lengthAdjust="spacingAndGlyphs">D1</text>
<text x="1107" y="15" text-anchor="middle" class="tb" textLength="14" lengthAdjust="spacingAndGlyphs">W1</text>
<text x="1133.9" y="15" text-anchor="middle" class="tb" textLength="14.3" lengthAdjust="spacingAndGlyphs">MN</text>
<rect class="cr" x="1149" y="0" width="1" height="21" fill="#a0a0a0"/>
<line x1="1611.6" y1="15.8" x2="1616.8" y2="11" stroke="#2458c8" stroke-width="2.5" stroke-linecap="round"/><line x1="1611.8" y1="15.6" x2="1616.2" y2="11.6" stroke="#7aa0ea" stroke-width="0.7" stroke-dasharray="0.6 0.7"/>
<circle cx="1619.5" cy="8.5" r="3.8" fill="#f2f3fb" stroke="#2458c8" stroke-width="1.3"/>
<path d="M1636.6,12.4 a5.6,4.4 0 0 1 11.2,0 a5.6,4.4 0 0 1 -6.6,4.3 l-1.6,2.2 l-0.2,-2.8 a5,4.2 0 0 1 -2.8,-3.7z" fill="#e2e4ee" stroke="#969696" stroke-width="0.9"/>
<circle cx="1650.6" cy="8.3" r="8.1" fill="url(#redb)"/>
<text x="1649.8" y="13" text-anchor="middle" style="font-size:13px;stroke:#fff;stroke-width:0.3px" fill="#fff">1</text>
</svg>
</body></html>
